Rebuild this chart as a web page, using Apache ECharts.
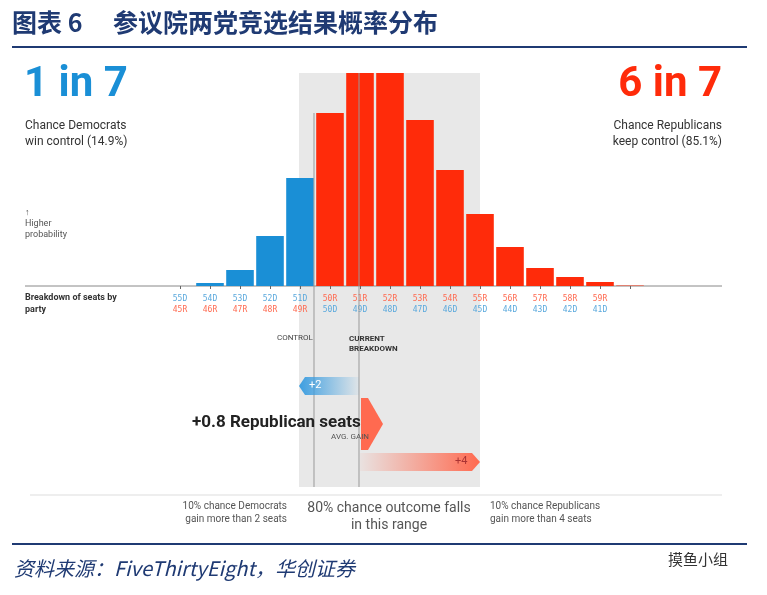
<!DOCTYPE html>
<html><head><meta charset="utf-8">
<script src="https://cdn.jsdelivr.net/npm/echarts@6/dist/echarts.min.js"></script>
<style>html,body{margin:0;padding:0;background:#fff}#c{width:767px;height:595px}</style>
</head><body><div id="c"></div>
<script>
const categories = ['55D','54D','53D','52D','51D','50R','51R','52R','53R','54R','55R','56R','57R','58R','59R','60R'];
const otherParty = ['45R','46R','47R','48R','49R','50D','49D','48D','47D','46D','45D','44D','43D','42D','41D',''];
const probability = [0, 3, 16, 50, 108, 173, 213, 213, 166, 116, 72, 39, 18, 9, 4, 1];
const BLUE = '#1a8fd6', RED = '#ff2b0a';
const chart = echarts.init(document.getElementById('c'));
const ff = 'Roboto, "Liberation Sans", sans-serif';
function T(x, y, text, font, fill, align, lh, z) {
  return {type: 'text', z: z || 7, style: {x: x, y: y, text: text, font: font, fill: fill, align: align || 'left', verticalAlign: 'top', lineHeight: lh}};
}
chart.setOption({
  animation: false,
  grid: {left: 165, right: 122, top: 73, bottom: 309},
  xAxis: {
    type: 'category', data: categories,
    axisLine: {show: false},
    axisTick: {show: true, alignWithLabel: true, length: 3, lineStyle: {color: '#666'}},
    axisLabel: {
      interval: 0, margin: 7, lineHeight: 11,
      formatter: (v, i) => {
        if (!otherParty[i]) return '';
        const d = v.endsWith('D');
        return (d ? '{b|' + v + '}' : '{r|' + v + '}') + '\n' + (d ? '{r|' + otherParty[i] + '}' : '{b|' + otherParty[i] + '}');
      },
      rich: {b: {color: '#5aa9dd', fontSize: 8, fontFamily: 'DejaVu Sans Mono'}, r: {color: '#ff6a50', fontSize: 8, fontFamily: 'DejaVu Sans Mono'}}
    }
  },
  yAxis: {type: 'value', min: 0, max: 213, show: false},
  series: [{
    type: 'bar', data: probability.map((v, i) => ({value: v, itemStyle: {color: i < 5 ? BLUE : (i === 15 ? '#e08070' : RED)}})),
    barCategoryGap: '8%', z: 3
  }],
  graphic: [
    T(12, 10, '图表 6　 参议院两党竞选结果概率分布', 'bold 25px "Noto Sans CJK SC", serif', '#1f3a73'),
    {type: 'rect', shape: {x: 12, y: 46, width: 735, height: 2}, style: {fill: '#1f3a73'}},
    {type: 'rect', z: -1, shape: {x: 299, y: 73, width: 181, height: 414}, style: {fill: '#e8e8e8'}},
    {type: 'line', z: 5, shape: {x1: 314, y1: 113, x2: 314, y2: 487}, style: {stroke: '#999', lineWidth: 1}},
    {type: 'line', z: 5, shape: {x1: 359, y1: 73, x2: 359, y2: 487}, style: {stroke: '#999', lineWidth: 1}},
    {type: 'line', shape: {x1: 25, y1: 286, x2: 722, y2: 286}, style: {stroke: '#888', lineWidth: 1}},
    T(24, 64, '1 in 7', 'bold 42px ' + ff, BLUE),
    T(25, 118, 'Chance Democrats\nwin control (14.9%)', '12px ' + ff, '#333', 'left', 16),
    T(722, 64, '6 in 7', 'bold 42px ' + ff, RED, 'right'),
    T(722, 118, 'Chance Republicans\nkeep control (85.1%)', '12px ' + ff, '#333', 'right', 16),
    T(25, 207, '↑\nHigher\nprobability', '9px ' + ff, '#555', 'left', 11),
    T(25, 292, 'Breakdown of seats by\nparty', 'bold 9px ' + ff, '#333', 'left', 12),
    T(277, 334, 'CONTROL', '8px ' + ff, '#444'),
    T(349, 334, 'CURRENT\nBREAKDOWN', 'bold 8px ' + ff, '#333', 'left', 10),
    {type: 'polygon', z: 6, shape: {points: [[299, 386], [305, 377], [359, 377], [359, 395], [305, 395]]},
      style: {fill: new echarts.graphic.LinearGradient(0, 0, 1, 0, [{offset: 0, color: '#3d9ee0'}, {offset: 1, color: 'rgba(61,158,224,0.05)'}])}},
    T(309, 380, '+2', '11px ' + ff, '#fff'),
    {type: 'polygon', z: 6, shape: {points: [[361, 398], [368, 398], [383, 424], [368, 450], [361, 450]]}, style: {fill: '#ff6a50'}},
    T(192, 414, '+0.8 Republican seats', 'bold 17px ' + ff, '#222', 'left', null, 8),
    T(331, 433, 'AVG. GAIN', '8px ' + ff, '#555'),
    {type: 'polygon', z: 6, shape: {points: [[360, 453], [472, 453], [480, 462], [472, 471], [360, 471]]},
      style: {fill: new echarts.graphic.LinearGradient(0, 0, 1, 0, [{offset: 0, color: 'rgba(255,106,80,0.05)'}, {offset: 1, color: '#ff6a50'}])}},
    T(455, 456, '+4', '11px ' + ff, '#a33'),
    {type: 'line', shape: {x1: 30, y1: 495, x2: 722, y2: 495}, style: {stroke: '#ddd', lineWidth: 1}},
    T(287, 500, '10% chance Democrats\ngain more than 2 seats', '10px ' + ff, '#555', 'right', 13),
    T(389, 500, '80% chance outcome falls\nin this range', '14px ' + ff, '#555', 'center', 17),
    T(490, 500, '10% chance Republicans\ngain more than 4 seats', '10px ' + ff, '#555', 'left', 13),
    {type: 'rect', shape: {x: 12, y: 543, width: 735, height: 2}, style: {fill: '#1f3a73'}},
    T(14, 558, '资料来源：FiveThirtyEight，华创证券', 'italic 20px "Noto Sans CJK SC", serif', '#1f3a73'),
    T(668, 552, '摸鱼小组', '15px "Noto Sans CJK SC"', '#333')
  ]
});
</script></body></html>
